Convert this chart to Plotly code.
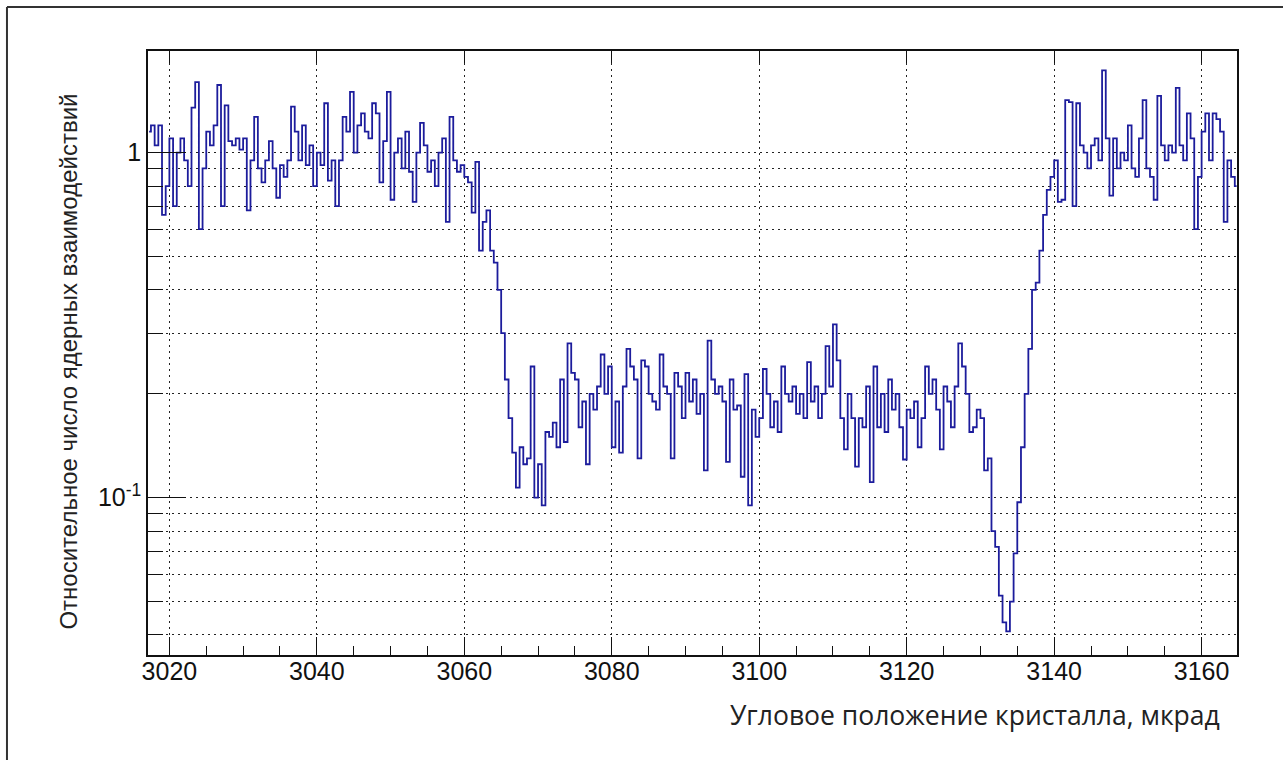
import math
import plotly.graph_objects as go

# ---- data: relative number of nuclear interactions vs crystal angle (0.5 urad bins) ----
bin_start = 3017.0
bin_width = 0.5

left_plateau = [
    1.15, 1.2, 1.05, 1.2, 0.66, 0.8, 1.1, 0.7, 1.0, 1.1, 0.95, 0.8, 1.35, 1.6, 0.6, 0.9, 1.15, 1.05, 1.2, 1.57,
    0.7, 1.37, 1.08, 1.05, 1.1, 1.02, 1.1, 0.68, 0.95, 1.27, 0.9, 0.82, 0.95, 1.08, 0.9, 0.74, 0.92, 0.85, 0.95, 1.36,
    1.15, 0.95, 1.2, 0.92, 1.05, 0.8, 1.0, 0.92, 1.39, 0.83, 0.95, 0.7, 0.95, 1.27, 1.15, 1.5, 1.0, 1.2, 1.3, 1.15,
    1.1, 1.39, 1.3, 0.82, 1.08, 1.5, 0.73, 1.0, 1.1, 0.9, 1.15, 0.88, 0.72, 1.0, 1.22, 1.05, 0.88, 0.95, 0.8, 1.0,
    1.1, 0.63, 1.27, 0.95, 0.88, 0.92, 0.85, 0.82, 0.67, 0.94,
]
drop = [0.52, 0.63, 0.68, 0.52, 0.48, 0.4, 0.3, 0.22, 0.17, 0.135]
channel = [
    0.107, 0.14, 0.125, 0.13, 0.24, 0.1, 0.125, 0.095, 0.155, 0.15, 0.165, 0.14, 0.22, 0.145, 0.28, 0.23, 0.22, 0.16, 0.19, 0.125,
    0.2, 0.18, 0.21, 0.26, 0.2, 0.24, 0.14, 0.19, 0.135, 0.21, 0.27, 0.24, 0.22, 0.13, 0.25, 0.24, 0.2, 0.19, 0.18, 0.26,
    0.21, 0.2, 0.13, 0.23, 0.21, 0.17, 0.23, 0.19, 0.22, 0.175, 0.2, 0.12, 0.285, 0.22, 0.2, 0.21, 0.19, 0.127, 0.22, 0.18,
    0.185, 0.115, 0.228, 0.095, 0.18, 0.15, 0.17, 0.236, 0.2, 0.16, 0.19, 0.155, 0.24, 0.2, 0.19, 0.21, 0.175, 0.2, 0.17, 0.247,
    0.19, 0.21, 0.17, 0.2, 0.275, 0.21, 0.318, 0.25, 0.17, 0.138, 0.2, 0.17, 0.123, 0.17, 0.16, 0.21, 0.111, 0.24, 0.16, 0.2,
    0.155, 0.22, 0.18, 0.2, 0.16, 0.129, 0.18, 0.17, 0.19, 0.14, 0.17, 0.24, 0.2, 0.22, 0.18, 0.138, 0.21, 0.19, 0.16, 0.21,
]
dip_rise = [
    0.28, 0.24, 0.2, 0.155, 0.16, 0.18, 0.17, 0.12, 0.13, 0.08, 0.072, 0.052, 0.0435, 0.041, 0.05, 0.069, 0.097, 0.14, 0.2, 0.27,
    0.4, 0.42, 0.52, 0.66, 0.78, 0.85,
]
right_plateau = [
    0.95, 0.72, 0.73, 1.42, 1.4, 0.7, 1.39, 1.05, 1.0, 0.9, 1.05, 1.1, 0.95, 1.73,
    1.1, 0.75, 1.1, 0.9, 1.0, 0.95, 1.2, 0.9, 0.85, 1.1, 1.42, 0.9, 0.85, 0.73, 1.46, 1.05, 0.95, 1.05, 1.0, 1.54,
    1.05, 0.95, 1.3, 1.1, 0.6, 0.85, 1.15, 1.3, 0.95, 1.3, 1.25, 1.15, 0.63, 0.95, 0.85, 0.8,
]

x_range = [3017.1, 3164.8]
y_range = [0.035, 1.97]
x_major = [3020, 3040, 3060, 3080, 3100, 3120, 3140, 3160]
x_minor = [3025, 3030, 3035, 3045, 3050, 3055, 3065, 3070, 3075, 3085, 3090, 3095,
           3105, 3110, 3115, 3125, 3130, 3135, 3145, 3150, 3155]
y_major = [0.1, 1]
y_major_text = ["10<sup>-1</sup>", "1"]
y_minor = [0.04, 0.05, 0.06, 0.07, 0.08, 0.09, 0.2, 0.3, 0.4, 0.5, 0.6, 0.7, 0.8, 0.9]

x_title = "Угловое положение кристалла, мкрад"
y_title = "Относительное число ядерных взаимодействий"

values = left_plateau + drop + channel + dip_rise + right_plateau
centers = [bin_start + bin_width * (i + 0.5) for i in range(len(values))]

tick_font = dict(family="Liberation Sans, Arial, sans-serif", size=25, color="#111")
grid_dash = "2px,4px"
grid_color = "#222"

fig = go.Figure()
fig.add_trace(go.Scatter(
    x=centers, y=values, mode="lines",
    line=dict(color="#1c1c9c", width=1.8, shape="hvh"),
    showlegend=False, hoverinfo="skip",
))
# helper invisible trace so the mirrored top axis (major ticks only) is drawn
fig.add_trace(go.Scatter(
    x=[x_range[0]], y=[1], xaxis="x2", mode="markers",
    marker=dict(opacity=0), showlegend=False, hoverinfo="skip",
))

fig.update_layout(
    width=1283, height=760,
    margin=dict(l=148, r=46, t=51, b=105),
    paper_bgcolor="white", plot_bgcolor="white",
    xaxis=dict(
        range=x_range, tickmode="array", tickvals=x_major,
        ticktext=[str(v) for v in x_major],
        ticks="inside", ticklen=18, tickwidth=1.3, tickcolor="#111",
        showline=True, linecolor="#111", linewidth=1.5, mirror=True,
        showgrid=True, gridcolor=grid_color, griddash=grid_dash, gridwidth=1,
        zeroline=False, tickfont=tick_font, ticklabelstandoff=-7,
        minor=dict(tickmode="array", tickvals=x_minor, ticks="inside",
                   ticklen=9, tickwidth=1.3, tickcolor="#111", showgrid=False),
    ),
    xaxis2=dict(
        range=x_range, overlaying="x", side="top", tickmode="array",
        tickvals=x_major, ticks="inside", ticklen=12, tickwidth=1.3,
        tickcolor="#111", showticklabels=False, showgrid=False, zeroline=False,
        showline=False,
    ),
    yaxis=dict(
        type="log", range=[math.log10(y_range[0]), math.log10(y_range[1])],
        tickmode="array", tickvals=y_major, ticktext=y_major_text,
        ticks="inside", ticklen=38, tickwidth=1.3, tickcolor="#111",
        showline=True, linecolor="#111", linewidth=1.5, mirror=True,
        showgrid=True, gridcolor=grid_color, griddash=grid_dash, gridwidth=1,
        zeroline=False, tickfont=tick_font,
        minor=dict(tickmode="array", tickvals=y_minor, ticks="inside",
                   ticklen=15, tickwidth=1.3, tickcolor="#111",
                   showgrid=True, gridcolor=grid_color, griddash=grid_dash, gridwidth=1),
    ),
    annotations=[
        dict(text=y_title, xref="paper", yref="paper", x=-0.073, y=0.485,
             xanchor="center", yanchor="middle", textangle=-90, showarrow=False,
             font=dict(family="Liberation Sans, Arial, sans-serif", size=24, color="#222")),
        dict(text=x_title, xref="paper", yref="paper", x=0.986, y=-0.1,
             xanchor="right", yanchor="middle", showarrow=False,
             font=dict(family="Open Sans, Noto Sans, sans-serif", size=26.5, color="#222")),
    ],
    shapes=[
        dict(type="line", xref="paper", yref="paper", x0=-0.1295, x1=1.05, y0=1.0727, y1=1.0727,
             line=dict(color="#333", width=2)),
        dict(type="line", xref="paper", yref="paper", x0=-0.1295, x1=-0.1295, y0=1.0727, y1=-0.18,
             line=dict(color="#333", width=2)),
    ],
)

fig.write_html("out.html", config={"displayModeBar": False},
               post_script="document.body.style.margin='0';document.body.style.overflow='hidden';")
